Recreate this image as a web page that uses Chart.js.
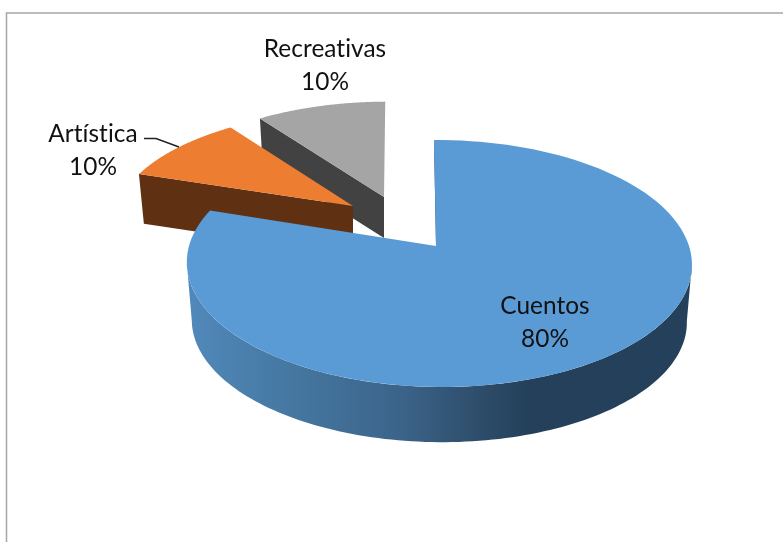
<!DOCTYPE html>
<html lang="es">
<head>
    <meta charset="UTF-8">
    <title>Cuentos, Artística, Recreativas</title>
    <style>
        body { margin: 0; background: #fff; }
        canvas { display: block; }
    </style>
</head>
<body>
    <canvas id="pieChart" width="783" height="542"></canvas>
    <script src="https://cdn.jsdelivr.net/npm/chart.js@4/dist/chart.umd.min.js"></script>
    <script>
        const categories = ['Cuentos', 'Artística', 'Recreativas'];
        const percentages = [80, 10, 10];
        const topColors = ['#5b9bd5', '#ed7d31', '#a5a5a5'];
        const wallColors = ['#24405a', '#5f3112', '#424242'];

        // how each slice sits on the page: apex, squash, shear, wall depth, bottom rim scale
        const sliceLayout = [
            { ax: 436, ay: 246, sx: 1, sy: 1, shear: 2.3, depth: 58, bottom: 0.98 },
            { ax: 353, ay: 206, sx: 0.955, sy: 0.9, shear: -4, depth: 49, bottom: 0.977 },
            { ax: 384, ay: 197, sx: 0.955, sy: 0.9, shear: -1.5, depth: 41, bottom: 0.98 }
        ];
        const labelLayout = [
            { x: 545, y: 306 },
            { x: 93, y: 134 },
            { x: 325, y: 49 }
        ];

        // perspective of the pie plane, a = angle as Chart.js hands it out
        function project(a, r, layout, lower) {
            const u = Math.cos(a) * r, v = Math.sin(a) * r;
            const w = 1 - 0.1417 * v - 0.012 * u;
            const scale = lower ? layout.bottom : 1;
            return {
                x: layout.ax + (250 * u + layout.shear * v) / w * layout.sx * scale,
                y: layout.ay + (121 * v) / w * layout.sy * scale + (lower ? layout.depth : 0)
            };
        }

        function rimPoints(from, to, layout, lower) {
            const pts = [];
            for (let i = 0; i <= 120; i++) {
                pts.push(project(from + (to - from) * i / 120, 1, layout, lower));
            }
            return pts;
        }

        function fillPoly(ctx, pts, fill) {
            ctx.beginPath();
            pts.forEach((p, i) => i ? ctx.lineTo(p.x, p.y) : ctx.moveTo(p.x, p.y));
            ctx.closePath();
            ctx.fillStyle = fill;
            ctx.fill();
        }

        const pie3d = {
            id: 'pie3d',
            beforeDraw(chart) {
                const ctx = chart.ctx;
                ctx.save();
                ctx.strokeStyle = '#a6a6a6';
                ctx.lineWidth = 1.5;
                ctx.beginPath();
                ctx.moveTo(6.5, 542);
                ctx.lineTo(6.5, 13);
                ctx.lineTo(783, 13);
                ctx.stroke();
                ctx.restore();
            },
            beforeDatasetDraw(chart) {
                const ctx = chart.ctx;
                const arcs = chart.getDatasetMeta(0).data;
                ctx.save();
                // back to front so the big slice covers the other two
                [2, 1, 0].forEach(i => {
                    const arc = arcs[i], layout = sliceLayout[i];
                    const start = arc.startAngle, end = arc.endAngle;
                    const apex = project(start, 0, layout, false);
                    const apexLow = project(start, 0, layout, true);
                    if (i === 0) {
                        const side = ctx.createLinearGradient(188, 0, 690, 0);
                        side.addColorStop(0, '#5189bb');
                        side.addColorStop(0.22, '#44769f');
                        side.addColorStop(0.42, '#3c648a');
                        side.addColorStop(0.58, '#2e4d6a');
                        side.addColorStop(0.68, '#24405a');
                        side.addColorStop(1, '#24405a');
                        // the wall runs between the widest points of the rim
                        const a0 = 0.14, a1 = Math.PI - 0.14;
                        fillPoly(ctx, rimPoints(a0, a1, layout, false).concat(rimPoints(a1, a0, layout, true)), side);
                        // thin sliver of the inner wall at 12 o'clock
                        const rimTop = project(start, 1, layout, false);
                        fillPoly(ctx, [rimTop, apex, { x: apex.x + 2, y: apex.y }, { x: rimTop.x + 0.6, y: rimTop.y }], wallColors[0]);
                    } else {
                        // straight wall along the slice's front edge
                        const rim = project(start, 1, layout, false);
                        const rimLow = project(start, 1, layout, true);
                        fillPoly(ctx, [rim, apex, apexLow, rimLow], wallColors[i]);
                    }
                    fillPoly(ctx, [apex].concat(rimPoints(start, end, layout, false)), topColors[i]);
                });
                ctx.restore();
                return false;
            },
            afterDraw(chart) {
                const ctx = chart.ctx;
                ctx.save();
                // leader line of Artística
                ctx.strokeStyle = '#222';
                ctx.lineWidth = 1.4;
                ctx.beginPath();
                ctx.moveTo(144, 138.5);
                ctx.lineTo(156, 138.5);
                ctx.lineTo(179, 147);
                ctx.stroke();
                ctx.font = '24.4px Lato, "Open Sans", sans-serif';
                ctx.letterSpacing = '0.05px';
                ctx.fillStyle = '#111';
                ctx.textAlign = 'center';
                ctx.textBaseline = 'middle';
                categories.forEach((name, i) => {
                    ctx.fillText(name, labelLayout[i].x, labelLayout[i].y);
                    ctx.fillText(percentages[i] + '%', labelLayout[i].x, labelLayout[i].y + 33);
                });
                ctx.restore();
            }
        };

        new Chart(document.getElementById('pieChart'), {
            type: 'pie',
            data: {
                labels: categories,
                datasets: [{ data: percentages, backgroundColor: topColors, borderWidth: 0 }]
            },
            options: {
                responsive: false,
                animation: false,
                plugins: { legend: { display: false }, tooltip: { enabled: false } }
            },
            plugins: [pie3d]
        });
    </script>
</body>
</html>
